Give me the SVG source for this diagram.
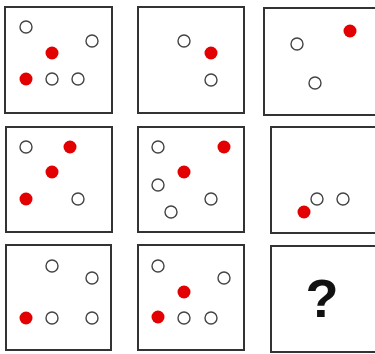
<svg xmlns="http://www.w3.org/2000/svg" width="375" height="354" viewBox="0 0 375 354">
<style>
.box{fill:#fff;stroke:#333;stroke-width:2}
.o{fill:#fff;stroke:#444;stroke-width:1.4}
.r{fill:#e30000}
</style>
<rect width="375" height="354" fill="#fff"/>
<g id="p1"><rect class="box" x="5" y="7" width="107" height="106"/>
<circle class="o" cx="26" cy="27" r="6"/><circle class="o" cx="92" cy="41" r="6"/><circle class="r" cx="52" cy="53" r="6.5"/><circle class="r" cx="26" cy="79" r="6.5"/><circle class="o" cx="52" cy="79" r="6"/><circle class="o" cx="78" cy="79" r="6"/></g>
<g id="p2"><rect class="box" x="138" y="7" width="106" height="106"/>
<circle class="o" cx="184" cy="41" r="6"/><circle class="r" cx="211" cy="53" r="6.5"/><circle class="o" cx="211" cy="80" r="6"/></g>
<g id="p3"><rect class="box" x="264" y="8" width="120" height="107"/>
<circle class="r" cx="350" cy="31" r="6.5"/><circle class="o" cx="297" cy="44" r="6"/><circle class="o" cx="315" cy="83" r="6"/></g>
<g id="p4"><rect class="box" x="6" y="127" width="106" height="105"/>
<circle class="o" cx="26" cy="147" r="6"/><circle class="r" cx="70" cy="147" r="6.5"/><circle class="r" cx="52" cy="172" r="6.5"/><circle class="r" cx="26" cy="199" r="6.5"/><circle class="o" cx="78" cy="199" r="6"/></g>
<g id="p5"><rect class="box" x="138" y="127" width="106" height="105"/>
<circle class="o" cx="158" cy="147" r="6"/><circle class="r" cx="224" cy="147" r="6.5"/><circle class="r" cx="184" cy="172" r="6.5"/><circle class="o" cx="158" cy="185" r="6"/><circle class="o" cx="211" cy="199" r="6"/><circle class="o" cx="171" cy="212" r="6"/></g>
<g id="p6"><rect class="box" x="271" y="127" width="120" height="106"/>
<circle class="o" cx="317" cy="199" r="6"/><circle class="o" cx="343" cy="199" r="6"/><circle class="r" cx="304" cy="212" r="6.5"/></g>
<g id="p7"><rect class="box" x="6" y="245" width="105" height="105"/>
<circle class="o" cx="52" cy="266" r="6"/><circle class="o" cx="92" cy="278" r="6"/><circle class="r" cx="26" cy="318" r="6.5"/><circle class="o" cx="52" cy="318" r="6"/><circle class="o" cx="92" cy="318" r="6"/></g>
<g id="p8"><rect class="box" x="138" y="245" width="106" height="105"/>
<circle class="o" cx="158" cy="266" r="6"/><circle class="o" cx="224" cy="278" r="6"/><circle class="r" cx="184" cy="292" r="6.5"/><circle class="r" cx="158" cy="317" r="6.5"/><circle class="o" cx="184" cy="318" r="6"/><circle class="o" cx="211" cy="318" r="6"/></g>
<g id="p9"><rect class="box" x="271" y="246" width="120" height="106"/>
<text x="322" y="317" font-family="Liberation Sans, Arial, sans-serif" font-size="54" font-weight="bold" text-anchor="middle" fill="#111">?</text></g>
</svg>
